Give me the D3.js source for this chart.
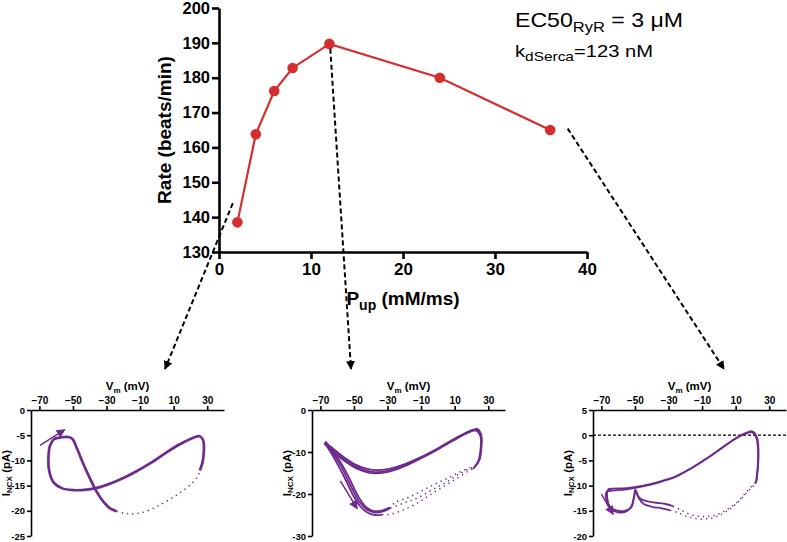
<!DOCTYPE html>
<html><head><meta charset="utf-8">
<script src="https://cdn.jsdelivr.net/npm/d3@7"></script>
<style>
body{margin:0;background:#fff;}
text{font-family:"Liberation Sans",Arial,sans-serif;}
</style></head>
<body><svg id="c" width="787" height="542"></svg>
<script>
// ---------- top chart data ----------
const pUp = [2, 4, 6, 8, 12, 24, 36];
const rate = [138.5, 163.8, 176.2, 182.8, 189.7, 180, 165];
const topXTicks = [0, 10, 20, 30, 40];
const topYTicks = [130, 140, 150, 160, 170, 180, 190, 200];

// ---------- bottom panels data ----------
const vmTicks = [-70, -50, -30, -10, 10, 30];
const p1YTicks = [0, -5, -10, -15, -20, -25];
const p2YTicks = [0, -10, -20, -30];
const p3YTicks = [5, 0, -5, -10, -15, -20];

// panel 1 (Pup = 2)
const p1Dense = [[25.6,-12.0],[27.2,-10.4],[28.0,-8.1],[27.6,-6.0],[25.6,-5.2],[21.7,-5.5],[13.7,-6.8],[5.8,-8.4],[-4.1,-10.6],[-14.0,-12.5],[-24.0,-14.1],[-33.9,-15.3],[-41.8,-15.8],[-49.8,-15.9],[-56.7,-15.5],[-61.7,-14.3],[-64.2,-12.0],[-64.6,-9.4],[-63.7,-7.1],[-61.3,-5.8],[-56.7,-5.4],[-52.1,-5.4],[-50.2,-5.8],[-47.4,-7.8],[-43.8,-10.7],[-39.8,-13.6],[-35.9,-16.2],[-31.9,-18.2],[-27.9,-19.5],[-24.0,-20.1]];
const p1Sparse = [[-24.0,-20.1],[-19.0,-20.5],[-14.0,-20.6],[-8.1,-20.3],[-0.2,-19.2],[7.8,-17.7],[14.7,-16.2],[20.7,-14.6],[24.6,-13.0],[25.6,-12.0]];
const p1Arrow = [[-69.6,-7.0],[-54.9,-3.9]];

// panel 2 (Pup = 12)
const p2DenseA = [[22.4,-13.3],[24.8,-11.8],[26.0,-8.6],[25.8,-5.9],[23.4,-4.5],[18.5,-5.1],[10.5,-6.7],[0.6,-9.0],[-9.4,-11.1],[-19.3,-12.8],[-29.2,-14.0],[-37.2,-14.3],[-43.2,-13.9],[-49.1,-13.0],[-55.1,-11.5],[-60.0,-10.0],[-64.0,-8.7],[-66.4,-7.9],[-66.8,-7.6],[-65.0,-8.4],[-61.0,-10.6],[-57.1,-13.0],[-53.1,-16.0],[-49.5,-19.0],[-46.0,-21.5],[-42.5,-23.2],[-38.5,-24.0],[-34.0,-24.0],[-29.2,-23.3]];
const p2SparseA = [[-29.2,-23.3],[-25.3,-22.0],[-17.3,-20.8],[-9.4,-19.2],[-1.4,-17.6],[6.5,-16.1],[14.5,-14.5],[22.4,-13.3]];
const p2DenseB = [[21.8,-13.6],[24.5,-12.0],[25.8,-8.8],[25.6,-6.0],[23.0,-4.7],[18.0,-5.3],[10.0,-7.0],[0.0,-9.3],[-10.0,-11.4],[-20.0,-13.2],[-30.0,-14.5],[-37.5,-14.8],[-43.5,-14.3],[-49.5,-13.3],[-55.5,-11.8],[-60.5,-10.2],[-64.5,-8.8],[-66.8,-8.0],[-67.0,-7.8],[-65.3,-8.7],[-61.5,-10.9],[-57.7,-13.4],[-53.8,-16.5],[-50.0,-19.6],[-46.3,-22.1],[-42.3,-23.7],[-38.0,-24.4],[-33.0,-24.2],[-28.2,-23.3]];
const p2SparseB = [[-28.2,-23.3],[-19.3,-22.0],[-11.4,-20.8],[-3.4,-19.0],[4.6,-17.3],[12.5,-15.3],[20.5,-13.7],[21.8,-13.6]];
const p2DenseC = [[21.0,-14.0],[24.0,-12.3],[25.5,-9.0],[25.3,-6.2],[22.6,-4.9],[17.5,-5.5],[9.5,-7.2],[-0.5,-9.5],[-10.5,-11.6],[-20.5,-13.5],[-30.5,-14.8],[-38.0,-15.1],[-44.0,-14.6],[-50.0,-13.6],[-56.0,-12.0],[-61.0,-10.5],[-65.0,-9.0],[-67.2,-8.2],[-67.4,-8.0],[-65.6,-9.0],[-62.0,-11.3],[-58.3,-14.0],[-54.4,-17.1],[-50.5,-20.3],[-46.5,-22.8],[-42.0,-24.4],[-37.5,-25.0],[-33.2,-24.9]];
const p2SparseC = [[-33.2,-24.9],[-29.2,-24.9],[-21.3,-23.9],[-13.3,-22.4],[-5.4,-20.4],[2.6,-18.4],[10.5,-16.5],[18.5,-14.5],[21.0,-14.0]];
const p2Arrow = [[-58.1,-16.9],[-48.1,-23.5]];

// panel 3 (Pup = 36)
const p3DenseA = [[22.4,-9.2],[23.4,-6.0],[23.6,-2.8],[22.8,-0.5],[21.1,0.5],[19.5,0.8],[16.5,0.5],[10.5,-0.5],[2.6,-2.3],[-5.4,-4.2],[-15.3,-6.3],[-25.3,-8.1],[-35.2,-9.2],[-45.1,-10.0],[-55.1,-10.5],[-63.0,-10.6],[-66.0,-10.8],[-66.5,-12.5],[-65.0,-14.1],[-61.1,-14.9],[-56.1,-15.0],[-52.1,-14.3],[-50.7,-12.6],[-49.5,-11.0],[-48.5,-11.8],[-47.1,-12.5],[-43.2,-13.1],[-37.2,-13.4],[-31.2,-13.7],[-27.3,-14.1]];
const p3SparseA = [[-27.3,-14.1],[-23.3,-14.7],[-17.3,-15.7],[-11.4,-16.1],[-5.4,-16.1],[0.6,-15.5],[6.5,-14.4],[12.5,-12.8],[16.5,-11.2],[20.5,-9.8],[22.4,-9.2]];
const p3DenseB = [[22.0,-9.6],[23.1,-6.3],[23.3,-3.0],[22.5,-0.7],[20.8,0.3],[19.2,0.6],[16.0,0.3],[10.0,-0.7],[2.0,-2.5],[-6.0,-4.4],[-16.0,-6.5],[-26.0,-8.3],[-36.0,-9.4],[-46.0,-10.2],[-56.0,-10.8],[-63.5,-11.0],[-66.8,-11.2],[-67.0,-13.0],[-64.5,-14.6],[-60.0,-15.3],[-55.5,-15.2],[-52.0,-14.0],[-50.5,-12.0],[-49.8,-10.8],[-48.0,-12.3],[-45.0,-13.6],[-40.0,-14.2],[-34.0,-14.5],[-29.0,-14.9]];
const p3SparseB = [[-29.0,-14.9],[-25.0,-15.3],[-19.0,-16.1],[-13.0,-16.6],[-7.0,-16.6],[-1.0,-16.1],[5.0,-15.0],[11.0,-13.4],[15.5,-11.8],[19.5,-10.4],[22.0,-9.6]];
const p3Arrow = [[-70.0,-11.7],[-63.0,-15.7]];

// annotation arrows: start in top-chart data units (pUp, rate)
const arrowStarts = [[1.5, 144], [12.1, 188.3], [37.9, 165.4]];

// ---------- drawing ----------
const svg = d3.select("#c");
svg.append("rect").attr("width",787).attr("height",542).attr("fill","#fff");
const RED = "#d42e2e", PURPLE = "#6e2a8c";

const x = d3.scaleLinear().domain([0,40]).range([219,587]);
const y = d3.scaleLinear().domain([130,200]).range([252,8]);

const defs = svg.append("defs");
defs.append("marker").attr("id","ah").attr("viewBox","0 0 10 10").attr("refX",9).attr("refY",5)
  .attr("markerWidth",4.4).attr("markerHeight",4.4).attr("orient","auto")
  .attr("markerUnits","strokeWidth")
  .append("path").attr("d","M0,0 L10,5 L0,10 z").attr("fill","#000");
defs.append("marker").attr("id","ahp").attr("viewBox","0 0 10 10").attr("refX",9).attr("refY",5)
  .attr("markerWidth",6).attr("markerHeight",6).attr("orient","auto")
  .attr("markerUnits","strokeWidth")
  .append("path").attr("d","M0,0 L10,5 L0,10 z").attr("fill",PURPLE);

function styleAxis(g, w, fs){
  g.selectAll("path,line").attr("stroke","#000").attr("stroke-width",w);
  g.selectAll("text").attr("fill","#000").style("font-size",fs+"px").style("font-weight","bold")
   .style("font-family","'Liberation Sans',Arial,sans-serif");
}

const gx = svg.append("g").attr("transform","translate(0,252)")
  .call(d3.axisBottom(x).tickValues(topXTicks).tickSize(7).tickSizeOuter(0).tickPadding(4));
styleAxis(gx,2.6,17);
const gy = svg.append("g").attr("transform","translate(219,0)")
  .call(d3.axisLeft(y).tickValues(topYTicks).tickSize(7).tickSizeOuter(0).tickPadding(2));
styleAxis(gy,2.6,16.5);

svg.append("text").attr("transform","translate(164,130) rotate(-90)")
  .attr("text-anchor","middle").attr("dominant-baseline","central")
  .style("font-size","19px").style("font-weight","bold").text("Rate (beats/min)");
const xl = svg.append("text").attr("x",403).attr("y",305).attr("text-anchor","middle")
  .style("font-size","19px").style("font-weight","bold");
xl.append("tspan").text("P");
xl.append("tspan").attr("dy",5).style("font-size","14px").text("up");
xl.append("tspan").attr("dy",-5).text(" (mM/ms)");

// data line and dots
svg.append("path").datum(pUp.map((d,i)=>[d,rate[i]]))
  .attr("fill","none").attr("stroke",RED).attr("stroke-width",2.2)
  .attr("d", d3.line().x(d=>x(d[0])).y(d=>y(d[1])));
svg.selectAll("circle.pt").data(pUp.map((d,i)=>[d,rate[i]])).enter().append("circle")
  .attr("cx",d=>x(d[0])).attr("cy",d=>y(d[1])).attr("r",5.3).attr("fill",RED);

// annotations
const t1 = svg.append("text").attr("x",515).attr("y",27).style("font-size","21px")
  .attr("textLength",168).attr("lengthAdjust","spacingAndGlyphs");
t1.append("tspan").text("EC50");
t1.append("tspan").attr("dy",5).style("font-size","15px").text("RyR");
t1.append("tspan").attr("dy",-5).text(" = 3 \u03bcM");
const t2 = svg.append("text").attr("x",515).attr("y",57).style("font-size","17px")
  .attr("textLength",138).attr("lengthAdjust","spacingAndGlyphs");
t2.append("tspan").text("k");
t2.append("tspan").attr("dy",4).style("font-size","13px").text("dSerca");
t2.append("tspan").attr("dy",-4).text("=123 nM");

// ---------- panels ----------
const panels = [
  {left:31, yDom:[-25,0], ticks:p1YTicks, cycles:[[p1Dense,p1Sparse]], arrow:p1Arrow, zero:false},
  {left:312, yDom:[-30,0], ticks:p2YTicks, cycles:[[p2DenseA,p2SparseA],[p2DenseB,p2SparseB],[p2DenseC,p2SparseC]], arrow:p2Arrow, zero:false},
  {left:593, yDom:[-20,5], ticks:p3YTicks, cycles:[[p3DenseA,p3SparseA],[p3DenseB,p3SparseB]], arrow:p3Arrow, zero:true}
];
const PTOP = 410, PH = 126, PW = 193;
const arrowEnds = [];
panels.forEach((p,i)=>{
  const px = d3.scaleLinear().domain([-75,40]).range([p.left,p.left+PW]);
  const py = d3.scaleLinear().domain(p.yDom).range([PTOP+PH,PTOP]);
  const g = svg.append("g");
  const ax = g.append("g").attr("transform",`translate(0,${PTOP})`)
    .call(d3.axisTop(px).tickValues(vmTicks).tickSize(4).tickSizeOuter(0).tickPadding(2));
  styleAxis(ax,1.6,10);
  const ay = g.append("g").attr("transform",`translate(${p.left},0)`)
    .call(d3.axisLeft(py).tickValues(p.ticks).tickFormat(d3.format("d")).tickSize(4).tickSizeOuter(0).tickPadding(2));
  styleAxis(ay,1.6,9.5);
  ay.selectAll("text").text(d=>String(d));
  const vl = g.append("text").attr("x",p.left+PW/2).attr("y",PTOP-20).attr("text-anchor","middle")
    .style("font-size","11.5px").style("font-weight","bold");
  vl.append("tspan").text("V");
  vl.append("tspan").attr("dy",3).style("font-size","8px").text("m");
  vl.append("tspan").attr("dy",-3).text(" (mV)");
  const il = g.append("text").attr("transform",`translate(${p.left-25},${PTOP+PH/2}) rotate(-90)`)
    .attr("text-anchor","middle").attr("dominant-baseline","central")
    .style("font-size","11.5px").style("font-weight","bold");
  il.append("tspan").text("I");
  il.append("tspan").attr("dy",3).style("font-size","8px").text("NCX");
  il.append("tspan").attr("dy",-3).text(" (pA)");
  if(p.zero){
    g.append("line").attr("x1",px(-75)).attr("x2",px(40)).attr("y1",py(0)).attr("y2",py(0))
      .attr("stroke","#000").attr("stroke-width",1.2).attr("stroke-dasharray","3,2");
  }
  const line = d3.line().x(d=>px(d[0])).y(d=>py(d[1])).curve(d3.curveCatmullRom.alpha(0.5));
  p.cycles.forEach(([dense,sparse])=>{
    g.append("path").datum(sparse).attr("fill","none").attr("stroke",PURPLE)
      .attr("stroke-width",1.5).attr("stroke-dasharray","1.3,4").attr("d",line);
    g.append("path").datum(dense).attr("fill","none").attr("stroke",PURPLE)
      .attr("stroke-width",p.cycles.length>1?1.8:2.7).attr("stroke-linejoin","round").attr("d",line);
  });
  g.append("line").attr("x1",px(p.arrow[0][0])).attr("y1",py(p.arrow[0][1]))
    .attr("x2",px(p.arrow[1][0])).attr("y2",py(p.arrow[1][1]))
    .attr("stroke",PURPLE).attr("stroke-width",1.5).attr("marker-end","url(#ahp)");
  // arrow target: above panel's axis label
  arrowEnds.push([[165, 351, 724][i], 369]);
});

// dashed annotation arrows
arrowStarts.forEach((s,i)=>{
  svg.append("line").attr("x1",x(s[0])).attr("y1",y(s[1]))
    .attr("x2",arrowEnds[i][0]).attr("y2",arrowEnds[i][1])
    .attr("stroke","#000").attr("stroke-width",2).attr("stroke-dasharray","5,3")
    .attr("marker-end","url(#ah)");
});
</script></body></html>
